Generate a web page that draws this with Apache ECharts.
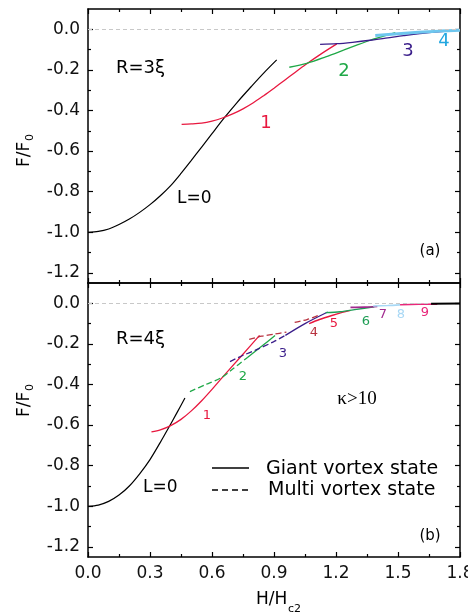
<!DOCTYPE html>
<html><head><meta charset="utf-8">
<script src="https://cdn.jsdelivr.net/npm/echarts@6/dist/echarts.min.js"></script>
<style>html,body{margin:0;padding:0;background:#fff}#c{width:468px;height:616px}</style>
</head><body><div id="c"></div>
<script>
// ---- data (H/Hc2, F/F0) ----
const xTickLabels = ['0.0','0.3','0.6','0.9','1.2','1.5','1.8'];
const yMajor = [-1.2,-1.0,-0.8,-0.6,-0.4,-0.2,0.0];
const yMinor = [-1.1,-0.9,-0.7,-0.5,-0.3,-0.1];

// panel (a) R=3xi
const topL0 = [[0,-1],[0.05,-0.996],[0.1,-0.984],[0.15,-0.962],[0.2,-0.935],[0.25,-0.902],[0.3,-0.864],[0.35,-0.82],[0.4,-0.77],[0.45,-0.71],[0.5,-0.646],[0.55,-0.58],[0.6,-0.514],[0.663,-0.432],[0.72,-0.362],[0.792,-0.28],[0.85,-0.216],[0.913,-0.151]];
const topV1 = [[0.453,-0.468],[0.5,-0.466],[0.55,-0.462],[0.6,-0.452],[0.65,-0.437],[0.7,-0.417],[0.75,-0.392],[0.8,-0.362],[0.85,-0.327],[0.9,-0.29],[0.95,-0.252],[1.0,-0.214],[1.05,-0.176],[1.13,-0.12],[1.204,-0.072]];
const topV2 = [[0.974,-0.187],[1.058,-0.168],[1.15,-0.136],[1.236,-0.103],[1.3,-0.078],[1.365,-0.054],[1.43,-0.034],[1.487,-0.017]];
const topV3 = [[1.123,-0.074],[1.204,-0.071],[1.28,-0.064],[1.365,-0.054],[1.45,-0.042],[1.527,-0.031],[1.65,-0.016],[1.8,-0.004]];
const topV4 = [[1.39,-0.03],[1.5,-0.022],[1.6,-0.015],[1.7,-0.009],[1.8,-0.005]];

// panel (b) R=4xi
const botL0 = [[0,-1],[0.05,-0.994],[0.1,-0.976],[0.15,-0.945],[0.2,-0.9],[0.25,-0.84],[0.3,-0.77],[0.35,-0.685],[0.388,-0.617],[0.43,-0.54],[0.469,-0.467]];
const botV1 = [[0.307,-0.634],[0.35,-0.624],[0.4,-0.603],[0.45,-0.572],[0.5,-0.53],[0.55,-0.48],[0.6,-0.424],[0.646,-0.37],[0.74,-0.262],[0.83,-0.158]];
const botV2multi = [[0.493,-0.435],[0.57,-0.40],[0.646,-0.366],[0.7,-0.324],[0.77,-0.268]];
const botV2giant = [[0.77,-0.268],[0.84,-0.212],[0.905,-0.159]];
const botV3multi = [[0.687,-0.287],[0.751,-0.256],[0.808,-0.232],[0.897,-0.19],[0.955,-0.158]];
const botV3giant = [[0.955,-0.158],[1.05,-0.1],[1.16,-0.043]];
const botV4multiA = [[0.78,-0.178],[0.84,-0.162],[0.9,-0.152],[0.96,-0.142]];
const botV4multiB = [[1.0,-0.094],[1.06,-0.08],[1.12,-0.058]];
const botV5 = [[1.07,-0.1],[1.12,-0.08],[1.18,-0.06],[1.23,-0.045],[1.27,-0.035]];
const botV6 = [[1.15,-0.046],[1.22,-0.042],[1.3,-0.03],[1.385,-0.017]];
const botV7 = [[1.27,-0.02],[1.34,-0.019],[1.4,-0.016]];
const botV8 = [[1.38,-0.013],[1.45,-0.011],[1.51,-0.008]];
const botV9 = [[1.51,-0.007],[1.6,-0.005],[1.69,-0.004]];
const botL9end = [[1.66,-0.002],[1.8,-0.001]];

// ---- styles ----
const FONT = 'DejaVu Sans';
const C = {black:'#000', red:'#e8183f', green:'#1fa847', purple:'#3a1d8a', cyanTxt:'#22a7e0', cyanLine:'#6ec6ee',
  brown:'#b8323f', green6:'#1f9e55', mag:'#a12a8f', lblue:'#a8d8f5', pink:'#e8287a'};
const axisLineStyle = {color:'#000', width:1.5};

function xAx(gi, pos, labels){
  return {type:'value', gridIndex:gi, position:pos, min:0, max:1.8, interval:0.3,
    axisLine:{show:true, onZero:false, lineStyle:axisLineStyle},
    axisTick:{show:true, inside:true, length:5, lineStyle:{color:'#000', width:1.2}},
    minorTick:{show:true, splitNumber:2, length:3, lineStyle:{color:'#000', width:1.2}},
    splitLine:{show:false}, minorSplitLine:{show:false},
    axisLabel:{show:labels, margin:8, color:'#111', fontFamily:FONT, fontSize:17,
      formatter:v=>xTickLabels[Math.round(v/0.3)]}};
}
function yAx(gi, pos, vals, len, showLine, labels){
  return {type:'value', gridIndex:gi, position:pos, min:-1.25, max:0.1,
    axisLine:{show:showLine, onZero:false, lineStyle:axisLineStyle},
    axisTick:{show:true, inside:true, length:len, customValues:vals, lineStyle:{color:'#000', width:1.2}},
    splitLine:{show:false},
    axisLabel:{show:labels, customValues:vals, margin:8, color:'#111', fontFamily:FONT, fontSize:17,
      formatter:v=>v.toFixed(1)}};
}
const zeroLine = {silent:true, symbol:'none', label:{show:false},
  lineStyle:{type:[4,3], color:'#c8c8c8', width:1}, data:[{yAxis:0}]};

function ser(data, gi, color, width, dashed, withZero, z){
  const s = {type:'line', data:data, xAxisIndex:gi*2, yAxisIndex:gi*4, showSymbol:false, symbol:'none',
    smooth:0.3, silent:true, z: z || 2,
    lineStyle:{color:color, width:width, type: dashed ? [6,3] : 'solid'}};
  if (withZero) s.markLine = zeroLine;
  return s;
}

const series = [
  ser(topL0,0,C.black,1.2,false,true),
  ser(topV1,0,C.red,1.3,false),
  ser(topV2,0,C.green,1.3,false),
  ser(topV3,0,C.purple,1.3,false),
  ser(topV4,0,C.cyanLine,3,false,false,4),
  ser(botL0,1,C.black,1.2,false,true),
  ser(botV1,1,C.red,1.3,false),
  ser(botV2multi,1,C.green,1.3,true),
  ser(botV2giant,1,C.green,1.3,false),
  ser(botV3multi,1,C.purple,1.3,true),
  ser(botV3giant,1,C.purple,1.3,false),
  ser(botV4multiA,1,C.brown,1.3,true),
  ser(botV4multiB,1,C.brown,1.3,true),
  ser(botV5,1,C.red,1.4,false),
  ser(botV6,1,C.green6,1.4,false),
  ser(botV7,1,C.mag,1.6,false,false,4),
  ser(botV8,1,C.lblue,1.6,false,false,4),
  ser(botV9,1,C.pink,1.6,false,false,4),
  ser(botL9end,1,C.black,2,false,false,6)
];

function txt(x,y,t,size,color,opts){
  return Object.assign({type:'text', x:x, y:y, silent:true,
    style:Object.assign({text:t, fill:color||'#000', font:size+'px "'+FONT+'"', align:'center', verticalAlign:'middle'}, (opts&&opts.style)||{})},
    opts&&opts.el||{});
}

const graphic = [
  {type:'group', x:25, y:150, rotation:Math.PI/2, children:[
    txt(-17,0,'F/F',17,'#000',{style:{align:'left'}}),
    txt(9,5,'0',11,'#000',{style:{align:'left'}})]},
  {type:'group', x:25, y:400, rotation:Math.PI/2, children:[
    txt(-17,0,'F/F',17,'#000',{style:{align:'left'}}),
    txt(9,5,'0',11,'#000',{style:{align:'left'}})]},
  txt(256,600,'H/H',17,'#000',{style:{align:'left'}}),
  txt(288,609,'c2',11,'#000',{style:{align:'left'}}),
  txt(116,68,'R=3ξ',18,'#000',{style:{align:'left'}}),
  txt(177,199,'L=0',17,'#000',{style:{align:'left'}}),
  txt(266,123,'1',18,C.red),
  txt(344,71,'2',18,C.green),
  txt(408,51,'3',18,C.purple),
  txt(444,41,'4',18,C.cyanTxt),
  txt(430,251,'(a)',15,'#000'),
  txt(116,339,'R=4ξ',18,'#000',{style:{align:'left'}}),
  txt(143,488,'L=0',17,'#000',{style:{align:'left'}}),
  txt(207,416,'1',13,C.red),
  txt(243,377,'2',13,C.green),
  txt(283,354,'3',13,C.purple),
  txt(314,333,'4',13,C.brown),
  txt(334,324,'5',13,C.red),
  txt(366,322,'6',13,C.green6),
  txt(383,315,'7',13,C.mag),
  txt(401,315,'8',13,C.lblue),
  txt(425,313,'9',13,C.pink),
  {type:'text', x:357, y:399, silent:true, style:{text:'κ>10', fill:'#000', font:'19px "Liberation Serif"', align:'center', verticalAlign:'middle'}},
  txt(430,536,'(b)',15,'#000'),
  {type:'line', silent:true, shape:{x1:212,y1:468,x2:249,y2:468}, style:{stroke:'#000', lineWidth:1.5}},
  {type:'line', silent:true, shape:{x1:212,y1:490,x2:249,y2:490}, style:{stroke:'#000', lineWidth:1.5, lineDash:[6,4]}},
  txt(266,469,'Giant vortex state',19,'#000',{style:{align:'left'}}),
  txt(268,490,'Multi vortex state',19,'#000',{style:{align:'left'}})
];

const option = {
  animation:false,
  backgroundColor:'#fff',
  grid:[
    {left:88, top:9, width:372, height:274, containLabel:false, outerBoundsMode:'none'},
    {left:88, top:283, width:372, height:274, containLabel:false, outerBoundsMode:'none'}
  ],
  xAxis:[xAx(0,'bottom',false), xAx(0,'top',false), xAx(1,'bottom',true), xAx(1,'top',false)],
  yAxis:[
    yAx(0,'left',yMajor,5,true,true), yAx(0,'left',yMinor,3,false,false),
    yAx(0,'right',yMajor,5,true,false), yAx(0,'right',yMinor,3,false,false),
    yAx(1,'left',yMajor,5,true,true), yAx(1,'left',yMinor,3,false,false),
    yAx(1,'right',yMajor,5,true,false), yAx(1,'right',yMinor,3,false,false)
  ],
  series:series,
  graphic:graphic
};
const chart = echarts.init(document.getElementById('c'), null, {renderer:'canvas'});
chart.setOption(option);
</script>
</body></html>
